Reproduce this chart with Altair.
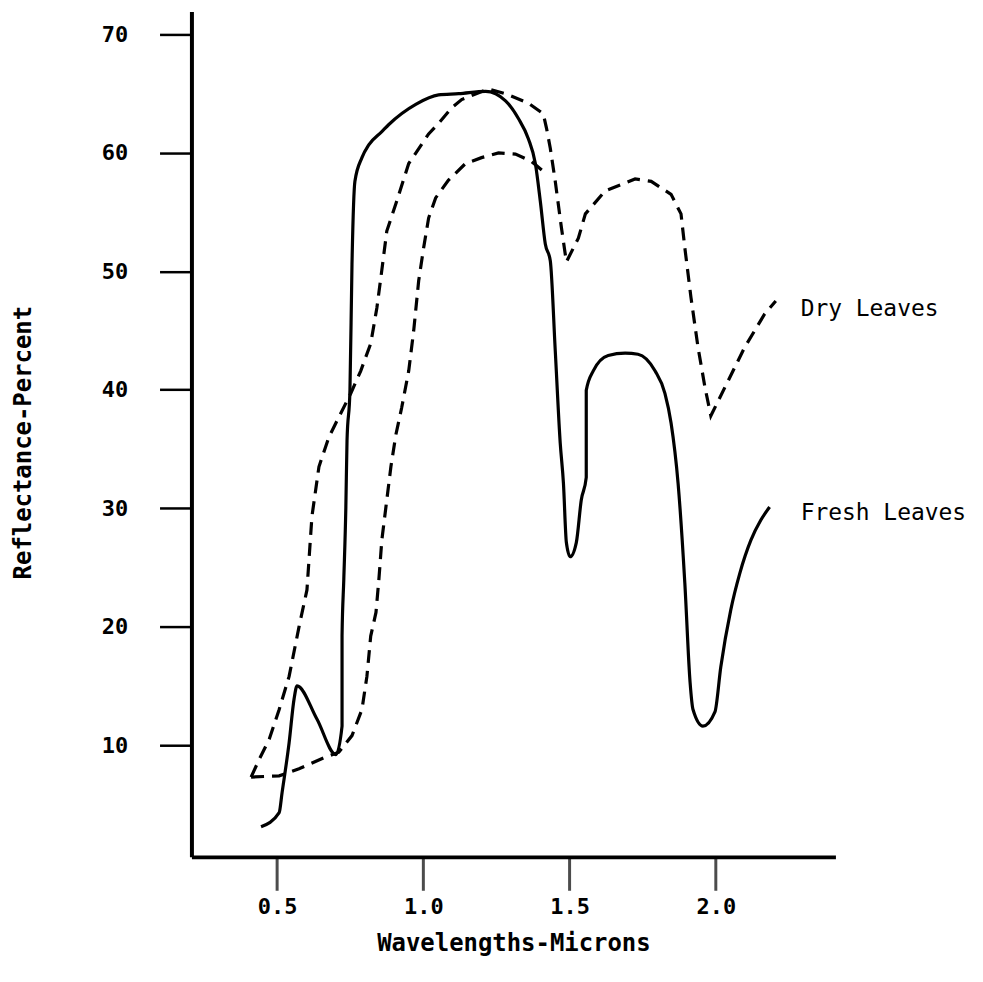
import altair as alt
import pandas as pd

# Fresh leaves (solid)
fresh_x = [0.445, 0.507, 0.517, 0.541, 0.558, 0.568, 0.636, 0.701, 0.722, 0.722, 0.728, 0.735, 0.739, 0.749,
           0.756, 0.766, 0.790, 0.814, 0.858, 0.882, 0.974, 1.052, 1.121, 1.213, 1.281, 1.325, 1.359, 1.383,
           1.400, 1.417, 1.434, 1.451, 1.468, 1.479, 1.489, 1.502, 1.523, 1.540, 1.557, 1.557, 1.581, 1.632,
           1.690, 1.734, 1.792, 1.826, 1.847, 1.871, 1.894, 1.912, 1.922, 1.956, 1.997, 2.017, 2.051, 2.082,
           2.120, 2.154, 2.184]
fresh_y = [3.1, 4.3, 6.0, 10.2, 13.9, 15.0, 12.2, 9.2, 11.6, 19.2, 24.0, 30.1, 35.7, 39.95,
           50.6, 57.6, 59.6, 60.7, 61.8, 62.4, 64.1, 64.9, 65.0, 65.2, 64.4, 62.9, 61.2, 59.1,
           55.9, 52.3, 50.9, 43.3, 35.5, 32.1, 27.1, 25.9, 27.1, 30.7, 32.6, 39.95, 41.6, 42.9,
           43.1, 43.0, 41.6, 39.7, 37.2, 32.1, 23.7, 15.3, 13.0, 11.6, 12.8, 16.6, 21.4, 24.5,
           27.3, 29.0, 30.1]

# Dry leaves (dashed, outer)
dry_x = [0.411, 0.439, 0.473, 0.507, 0.541, 0.575, 0.602, 0.619, 0.643, 0.677, 0.701, 0.752, 0.786, 0.820,
         0.841, 0.858, 0.875, 0.906, 0.950, 1.018, 1.052, 1.097, 1.131, 1.223, 1.281, 1.359, 1.410, 1.421,
         1.434, 1.451, 1.472, 1.489, 1.530, 1.554, 1.622, 1.724, 1.779, 1.847, 1.881, 1.894, 1.915, 1.939,
         1.963, 1.983, 2.031, 2.099, 2.167, 2.205]
dry_y = [7.3, 8.8, 10.5, 13.0, 15.8, 20.0, 23.1, 29.3, 33.5, 36.0, 37.2, 39.7, 41.6, 43.9,
         46.9, 50.1, 53.4, 55.7, 59.1, 61.6, 62.5, 63.8, 64.5, 65.4, 65.0, 64.2, 63.3, 62.1,
         60.4, 57.6, 53.7, 50.8, 52.8, 54.85, 56.8, 57.8, 57.6, 56.5, 54.85, 52.0, 47.8, 43.6,
         40.2, 37.8, 40.2, 43.6, 46.4, 47.5]

# Second dashed curve (inner, unlabeled)
inner_x = [0.411, 0.507, 0.575, 0.667, 0.711, 0.756, 0.790, 0.807, 0.820, 0.838, 0.848, 0.858, 0.872, 0.889,
           0.906, 0.926, 0.950, 0.967, 0.984, 1.001, 1.018, 1.042, 1.086, 1.144, 1.199, 1.257, 1.315, 1.369,
           1.417]
inner_y = [7.3, 7.4, 8.0, 9.0, 9.4, 10.8, 13.0, 15.8, 19.2, 21.2, 24.0, 27.3, 30.1, 33.5,
           36.2, 38.5, 41.6, 45.0, 49.2, 52.0, 54.5, 56.2, 57.7, 59.1, 59.6, 60.0, 59.9, 59.3,
           58.3]

label_text = ["Dry Leaves", "Fresh Leaves"]
label_x = [2.29, 2.29]
label_y = [46.85, 29.6]

x_ticks = [0.5, 1.0, 1.5, 2.0]
y_ticks = [10, 20, 30, 40, 50, 60, 70]

FONT = "DejaVu Sans Mono"
PLOT_W, PLOT_H = 646, 848
X_TICK_LEN = 34


def frame(xs, ys):
    return pd.DataFrame({"x": xs, "y": ys, "i": list(range(len(xs)))})


xscale = alt.Scale(domain=[0.207, 2.409], nice=False, zero=False)
yscale = alt.Scale(domain=[0.56, 71.94], nice=False, zero=False)

xaxis = alt.Axis(values=x_ticks, format=".1f", title="Wavelengths-Microns", grid=False, ticks=False,
                 domainColor="black", domainWidth=4,
                 labelFont=FONT, labelFontSize=22, labelFontWeight="bold", labelColor="black",
                 labelPadding=6 + X_TICK_LEN, titleFont=FONT, titleFontSize=24, titleFontWeight="bold",
                 titleColor="black", titlePadding=14)
yaxis = alt.Axis(values=y_ticks, format="d", title="Reflectance-Percent", grid=False, ticks=True,
                 domainColor="black", domainWidth=4, tickColor="black", tickWidth=2.5, tickSize=32,
                 labelFont=FONT, labelFontSize=22, labelFontWeight="bold", labelColor="black",
                 labelPadding=32, titleFont=FONT, titleFontSize=24, titleFontWeight="bold",
                 titleColor="black", titleX=-156, titleY=432)

enc_x = alt.X("x:Q", scale=xscale, axis=xaxis)
enc_y = alt.Y("y:Q", scale=yscale, axis=yaxis)

fresh = alt.Chart(frame(fresh_x, fresh_y)).mark_line(
    color="black", strokeWidth=3.2, interpolate="monotone"
).encode(x=enc_x, y=enc_y, order="i:Q")

dry = alt.Chart(frame(dry_x, dry_y)).mark_line(
    color="black", strokeWidth=3.2, strokeDash=[13, 8]
).encode(x=enc_x, y=enc_y, order="i:Q")

inner = alt.Chart(frame(inner_x, inner_y)).mark_line(
    color="black", strokeWidth=3.2, strokeDash=[13, 8]
).encode(x=enc_x, y=enc_y, order="i:Q")

labels = alt.Chart(pd.DataFrame({"t": label_text, "x": label_x, "y": label_y})).mark_text(
    font=FONT, fontSize=23, color="black", align="left", baseline="middle"
).encode(x=enc_x, y=enc_y, text="t:N")

# x-axis tick marks, placed through the x scale
xticks = alt.Chart(pd.DataFrame({"x": x_ticks})).mark_tick(
    color="black", thickness=3, size=X_TICK_LEN, orient="vertical", clip=False
).encode(x=enc_x, y=alt.value(PLOT_H + X_TICK_LEN / 2))

chart = alt.layer(fresh, dry, inner, labels, xticks).properties(
    width=PLOT_W, height=PLOT_H,
    autosize=alt.AutoSizeParams(type="none"),
    padding={"left": 184, "top": 2, "right": 140, "bottom": 120},
    background="white"
).configure_view(stroke=None)

chart.save("out.html", embed_options={"renderer": "svg", "actions": False})
